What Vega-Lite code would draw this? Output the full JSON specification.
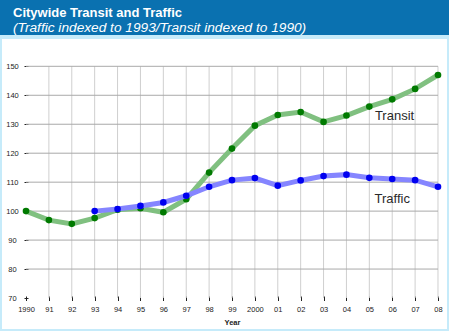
{
  "$schema": "https://vega.github.io/schema/vega-lite/v6.json",
  "width": 449,
  "height": 294,
  "autosize": "none",
  "padding": {"top": 37, "left": 0, "right": 0, "bottom": 0},
  "background": "#0a71b0",
  "title": {
    "text": "Citywide Transit and Traffic",
    "subtitle": "(Traffic indexed to 1993/Transit indexed to 1990)",
    "anchor": "start",
    "frame": "group",
    "dx": 13,
    "offset": 2,
    "color": "white",
    "subtitleColor": "white",
    "font": "Liberation Sans",
    "fontSize": 13,
    "fontWeight": "bold",
    "subtitleFont": "Liberation Sans",
    "subtitleFontSize": 13.7,
    "subtitleFontStyle": "italic",
    "subtitlePadding": 1
  },
  "config": {
    "view": {"fill": "white", "stroke": "#c6ebfa", "strokeWidth": 4},
    "font": "Liberation Sans"
  },
  "resolve": {"axis": {"x": "independent", "y": "independent"}},
  "datasets": {
    "series": [
      {"year": 1990, "value": 100.0, "series": "Transit"},
      {"year": 1991, "value": 96.9, "series": "Transit"},
      {"year": 1992, "value": 95.6, "series": "Transit"},
      {"year": 1993, "value": 97.6, "series": "Transit"},
      {"year": 1994, "value": 100.5, "series": "Transit"},
      {"year": 1995, "value": 101.0, "series": "Transit"},
      {"year": 1996, "value": 99.6, "series": "Transit"},
      {"year": 1997, "value": 104.1, "series": "Transit"},
      {"year": 1998, "value": 113.3, "series": "Transit"},
      {"year": 1999, "value": 121.6, "series": "Transit"},
      {"year": 2000, "value": 129.5, "series": "Transit"},
      {"year": 2001, "value": 133.2, "series": "Transit"},
      {"year": 2002, "value": 134.2, "series": "Transit"},
      {"year": 2003, "value": 130.8, "series": "Transit"},
      {"year": 2004, "value": 133.0, "series": "Transit"},
      {"year": 2005, "value": 136.1, "series": "Transit"},
      {"year": 2006, "value": 138.6, "series": "Transit"},
      {"year": 2007, "value": 142.2, "series": "Transit"},
      {"year": 2008, "value": 147.0, "series": "Transit"},
      {"year": 1993, "value": 100.0, "series": "Traffic"},
      {"year": 1994, "value": 100.7, "series": "Traffic"},
      {"year": 1995, "value": 101.8, "series": "Traffic"},
      {"year": 1996, "value": 103.0, "series": "Traffic"},
      {"year": 1997, "value": 105.3, "series": "Traffic"},
      {"year": 1998, "value": 108.4, "series": "Traffic"},
      {"year": 1999, "value": 110.7, "series": "Traffic"},
      {"year": 2000, "value": 111.4, "series": "Traffic"},
      {"year": 2001, "value": 108.8, "series": "Traffic"},
      {"year": 2002, "value": 110.6, "series": "Traffic"},
      {"year": 2003, "value": 112.1, "series": "Traffic"},
      {"year": 2004, "value": 112.6, "series": "Traffic"},
      {"year": 2005, "value": 111.5, "series": "Traffic"},
      {"year": 2006, "value": 111.1, "series": "Traffic"},
      {"year": 2007, "value": 110.7, "series": "Traffic"},
      {"year": 2008, "value": 108.4, "series": "Traffic"}
    ],
    "ticks": [
      {"value": 80}, {"value": 90}, {"value": 100}, {"value": 110},
      {"value": 120}, {"value": 130}, {"value": 140}, {"value": 150}
    ],
    "labels": [
      {"year": 2006.1, "value": 132.8, "label": "Transit"},
      {"year": 2006.0, "value": 104.2, "label": "Traffic"}
    ]
  },
  "layer": [
    {
      "data": {"name": "series"},
      "transform": [{"filter": "datum.series == 'Transit' && datum.year > 1990"}],
      "mark": {"type": "rule", "color": "#cfcfcf", "strokeWidth": 1},
      "encoding": {
        "x": {
          "field": "year",
          "type": "quantitative",
          "scale": {"domain": [1988.864, 2008.481], "nice": false, "zero": false},
          "axis": {
            "title": "Year",
            "values": [1990, 1991, 1992, 1993, 1994, 1995, 1996, 1997, 1998, 1999, 2000, 2001, 2002, 2003, 2004, 2005, 2006, 2007, 2008],
            "labelExpr": "datum.value == 1990 || datum.value == 2000 ? toString(datum.value) : substring(toString(datum.value), 2)",
            "offset": -35,
            "domain": false,
            "grid": false,
            "ticks": true,
            "tickSize": 4.5,
            "tickColor": "#222222",
            "labelPadding": 5,
            "labelFont": "Liberation Sans",
            "labelFontSize": 7.5,
            "labelColor": "#222222",
            "labelOverlap": false,
            "labelFlush": false,
            "titleFont": "Liberation Sans",
            "titleFontSize": 7.5,
            "titleFontWeight": "bold",
            "titleColor": "#222222",
            "titleX": 232,
            "titleY": 28,
            "titleBaseline": "alphabetic"
          }
        },
        "y": {"datum": 70, "type": "quantitative", "axis": null},
        "y2": {"datum": 150}
      }
    },
    {
      "data": {"name": "ticks"},
      "mark": {"type": "rule", "color": "#a9a9a9", "strokeWidth": 1},
      "encoding": {
        "y": {
          "field": "value",
          "type": "quantitative",
          "scale": {"domain": [58.61, 160.12], "nice": false, "zero": false},
          "axis": {
            "title": null,
            "values": [70, 80, 90, 100, 110, 120, 130, 140, 150],
            "offset": -28,
            "domain": false,
            "grid": false,
            "ticks": true,
            "tickSize": 4,
            "tickColor": "#222222",
            "labelAlign": "center",
            "labelPadding": 12,
            "labelFont": "Liberation Sans",
            "labelFontSize": 7.5,
            "labelColor": "#222222",
            "labelOverlap": false,
            "labelFlush": false
          }
        },
        "x": {"datum": 1990, "type": "quantitative", "axis": null},
        "x2": {"datum": 2008}
      }
    },
    {
      "mark": {"type": "rule", "color": "#222222", "strokeWidth": 1},
      "encoding": {
        "x": {"datum": 1990, "type": "quantitative", "axis": null},
        "y": {"datum": 70, "type": "quantitative", "axis": null},
        "y2": {"datum": 150}
      }
    },
    {
      "mark": {"type": "rule", "color": "#222222", "strokeWidth": 1},
      "encoding": {
        "y": {"datum": 70, "type": "quantitative", "axis": null},
        "x": {"datum": 1990, "type": "quantitative", "axis": null},
        "x2": {"datum": 2008}
      }
    },
    {
      "mark": {"type": "rule", "color": "#000000", "strokeWidth": 1, "strokeDash": [1, 1]},
      "encoding": {
        "y": {"datum": 100, "type": "quantitative", "axis": null},
        "x": {"datum": 1990, "type": "quantitative", "axis": null},
        "x2": {"datum": 2008}
      }
    },
    {
      "data": {"name": "series"},
      "transform": [{"filter": "datum.series == 'Transit'"}],
      "mark": {
        "type": "line",
        "color": "#80c080",
        "strokeWidth": 5,
        "point": {"filled": true, "color": "#007a00", "size": 44, "opacity": 1}
      },
      "encoding": {
        "x": {"field": "year", "type": "quantitative", "axis": null},
        "y": {"field": "value", "type": "quantitative", "axis": null}
      }
    },
    {
      "data": {"name": "series"},
      "transform": [{"filter": "datum.series == 'Traffic'"}],
      "mark": {
        "type": "line",
        "color": "#8585ff",
        "strokeWidth": 5,
        "point": {"filled": true, "color": "#0000f0", "size": 44, "opacity": 1}
      },
      "encoding": {
        "x": {"field": "year", "type": "quantitative", "axis": null},
        "y": {"field": "value", "type": "quantitative", "axis": null}
      }
    },
    {
      "data": {"name": "labels"},
      "mark": {"type": "text", "font": "Liberation Sans", "fontSize": 13, "color": "#2a2a2a", "align": "center", "baseline": "middle"},
      "encoding": {
        "x": {"field": "year", "type": "quantitative", "axis": null},
        "y": {"field": "value", "type": "quantitative", "axis": null},
        "text": {"field": "label"}
      }
    }
  ]
}
